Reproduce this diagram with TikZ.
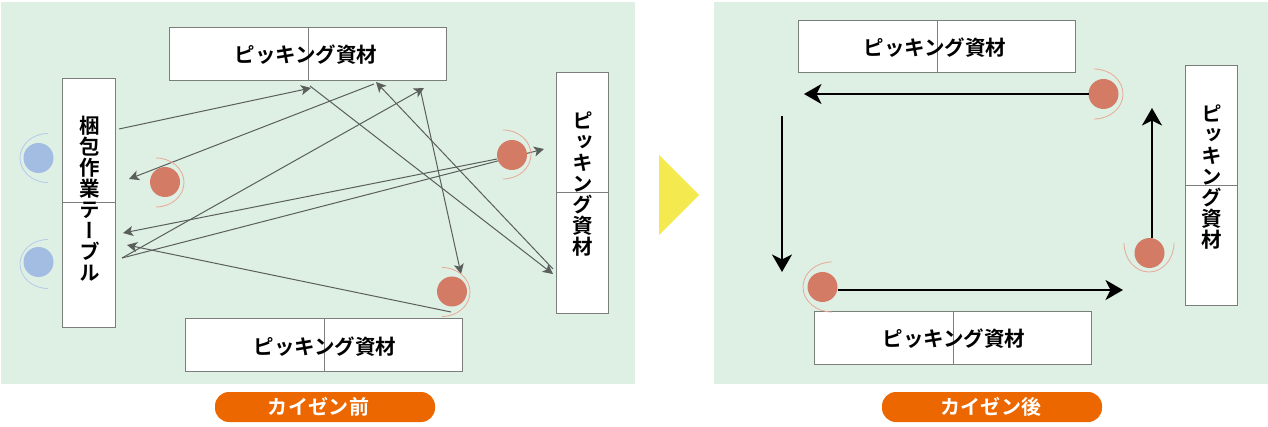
\documentclass[tikz,border=0pt]{standalone}
\usepackage{fontspec}
\usetikzlibrary{arrows.meta}
\newfontfamily\jpfont{Noto Sans CJK JP}[BoldFont={Noto Sans CJK JP Bold}]
\newfontfamily\vjpfont{Noto Sans CJK JP}[RawFeature={+vert},BoldFont={Noto Sans CJK JP Bold}]
\newfontfamily\pillfont{Noto Sans CJK JP}[BoldFont={Noto Sans CJK JP Bold},LetterSpace=2]
\definecolor{panelgreen}{HTML}{DEEFE3}
\definecolor{boxline}{HTML}{7A7F7C}
\definecolor{redp}{HTML}{D47B66}
\definecolor{redarc}{HTML}{E9A998}
\definecolor{bluep}{HTML}{A3BCE2}
\definecolor{bluearc}{HTML}{B5CBEA}
\definecolor{thin}{HTML}{5A5F5C}
\definecolor{pill}{HTML}{EC6700}
\definecolor{tri}{HTML}{F4E94E}
\tikzset{
  panel/.style={fill=panelgreen,draw=none},
  matbox/.style={draw=boxline,fill=white,line width=0.9pt,inner sep=0pt,outer sep=0pt},
  divider/.style={draw=boxline,line width=0.9pt},
  hlabel/.style={font=\jpfont\bfseries\fontsize{20.5}{21}\selectfont,inner sep=0pt,text=black},
  vlabel/.style={font=\vjpfont\bfseries\fontsize{20.5}{21}\selectfont,align=center,inner sep=0pt,text=black},
  redc/.style={circle,fill=redp,minimum size=30pt,inner sep=0pt,outer sep=0pt},
  bluec/.style={circle,fill=bluep,minimum size=30pt,inner sep=0pt,outer sep=0pt},
  redarcline/.style={draw=redarc,line width=0.8pt},
  bluearcline/.style={draw=bluearc,line width=0.8pt},
  thinarrow/.style={draw=thin,line width=1pt,-{Stealth[length=10pt,width=10pt,inset=2.5pt,fill=thin]}},
  bigarrow/.style={draw=black,line width=2pt,-{Stealth[length=17.5pt,width=20pt,inset=5pt]}},
  pillbox/.style={fill=pill,rounded corners=14pt,minimum width=220pt,minimum height=30pt,inner sep=0pt},
  pilltext/.style={text=white,inner sep=0pt,font=\pillfont\bfseries\fontsize{20}{20}\selectfont},
  arrowtri/.style={fill=tri,draw=none}
}
\begin{document}
\begin{tikzpicture}[x=1pt,y=-1pt]
\useasboundingbox (0,0) rectangle (1268,427);
\fill[white] (0,0) rectangle (1268,427);
% panels
\path[panel] (1,2) rectangle (635,384);
\path[panel] (714,2) rectangle (1268,384);
\path[arrowtri] (659,155) -- (699,195) -- (659,235) -- cycle;

% left panel boxes
\node[matbox,minimum width=277pt,minimum height=53pt] (ltop) at (308.3,53.5) {};
\draw[divider] (ltop.north) -- (ltop.south);
\node[hlabel] (ltopt) at (306,55) {ピッキング資材};
\node[matbox,minimum width=277pt,minimum height=53pt] (lbot) at (324.3,344.5) {};
\draw[divider] (lbot.north) -- (lbot.south);
\node[hlabel] (lbott) at (325,347) {ピッキング資材};
\node[matbox,minimum width=53pt,minimum height=249pt] (ltab) at (89.3,202.5) {};
\draw[divider] (ltab.west) -- (ltab.east);
\node[vlabel] (ltabt) at (89.5,199) {梱\\包\\作\\業\\テ\\ー\\ブ\\ル};
\node[matbox,minimum width=52pt,minimum height=241pt] (lrig) at (582.8,192.5) {};
\draw[divider] (lrig.west) -- (lrig.east);
\node[vlabel] (lrigt) at (583,184.5) {ピ\\ッ\\キ\\ン\\グ\\資\\材};

% left panel connector ends
\coordinate (a1s) at (119,129);   \coordinate (a1e) at (311,88);
\coordinate (a2s) at (374,84);    \coordinate (a2e) at (129,179);
\coordinate (a3s) at (122,258);   \coordinate (a3e) at (424,88);
\coordinate (a4s) at (497,159);   \coordinate (a4e) at (123,233);
\coordinate (a5e) at (544,149);
\coordinate (a6s) at (451,312);   \coordinate (a6e) at (127,245);
\coordinate (a7s) at (310,86);    \coordinate (a7e) at (553,274);
\coordinate (a8s) at (553,269);   \coordinate (a8e) at (376,82);
\coordinate (a9s) at (420,88);    \coordinate (a9e) at (461,274);
\draw[thinarrow] (a1s) -- (a1e);
\draw[thinarrow] (a2s) -- (a2e);
\draw[thinarrow] (a3s) -- (a3e);
\draw[thinarrow] (a4s) -- (a4e);
\draw[thinarrow] (a3s) -- (a5e);
\draw[thinarrow] (a6s) -- (a6e);
\draw[thinarrow] (a7s) -- (a7e);
\draw[thinarrow] (a8s) -- (a8e);
\draw[thinarrow] (a9s) -- (a9e);

% left panel people
\node[bluec] (pb1) at (38.5,158) {};
\draw[bluearcline] (48,133.5) arc[start angle=90,end angle=270,x radius=28pt,y radius=24.5pt];
\node[bluec] (pb2) at (38.5,262) {};
\draw[bluearcline] (48,239.5) arc[start angle=90,end angle=270,x radius=28pt,y radius=24.5pt];
\node[redc] (pr1) at (165,182) {};
\draw[redarcline] (156,158) arc[start angle=90,end angle=-90,x radius=28pt,y radius=24.5pt];
\node[redc] (pr2) at (512,155) {};
\draw[redarcline] (503,130) arc[start angle=90,end angle=-90,x radius=28pt,y radius=24.5pt];
\node[redc] (pr3) at (452,291.5) {};
\draw[redarcline] (442,267.5) arc[start angle=90,end angle=-90,x radius=28pt,y radius=24.5pt];

% right panel boxes
\node[matbox,minimum width=277pt,minimum height=52pt] (rtop) at (937.3,46) {};
\draw[divider] (rtop.north) -- (rtop.south);
\node[hlabel] (rtopt) at (935,48) {ピッキング資材};
\node[matbox,minimum width=277pt,minimum height=53pt] (rbot) at (953.3,337.5) {};
\draw[divider] (rbot.north) -- (rbot.south);
\node[hlabel] (rbott) at (954,339) {ピッキング資材};
\node[matbox,minimum width=52pt,minimum height=240pt] (rrig) at (1211.8,185) {};
\draw[divider] (rrig.west) -- (rrig.east);
\node[vlabel] (rrigt) at (1212,177) {ピ\\ッ\\キ\\ン\\グ\\資\\材};

% right panel people
\node[redc] (qr1) at (1103.5,94) {};
\draw[redarcline] (1094,69) arc[start angle=90,end angle=-90,x radius=29pt,y radius=25pt];
\node[redc] (qr2) at (1149.5,253) {};
\draw[redarcline] (1124,243) arc[start angle=180,end angle=360,x radius=25pt,y radius=29pt];
\node[redc] (qr3) at (822.5,287) {};
\draw[redarcline] (832,262) arc[start angle=90,end angle=270,x radius=29pt,y radius=25pt];

% right panel connectors
\coordinate (b1e) at (804,94);
\coordinate (b2s) at (782,116);  \coordinate (b2e) at (782,272);
\coordinate (b3e) at (1123,290);
\coordinate (b4e) at (1152,108);
\draw[bigarrow] (qr1.west) -- (b1e);
\draw[bigarrow] (b2s) -- (b2e);
\draw[bigarrow] ([yshift=-3pt]qr3.east) -- (b3e);
\draw[bigarrow] ([xshift=2.5pt]qr2.north) -- (b4e);

% pills
\node[pillbox] (pill1) at (325,407) {};
\node[pilltext] (pill1t) at (318.5,407) {カイゼン前};
\node[pillbox] (pill2) at (992,407) {};
\node[pilltext] (pill2t) at (991,407) {カイゼン後};
\end{tikzpicture}
\end{document}
